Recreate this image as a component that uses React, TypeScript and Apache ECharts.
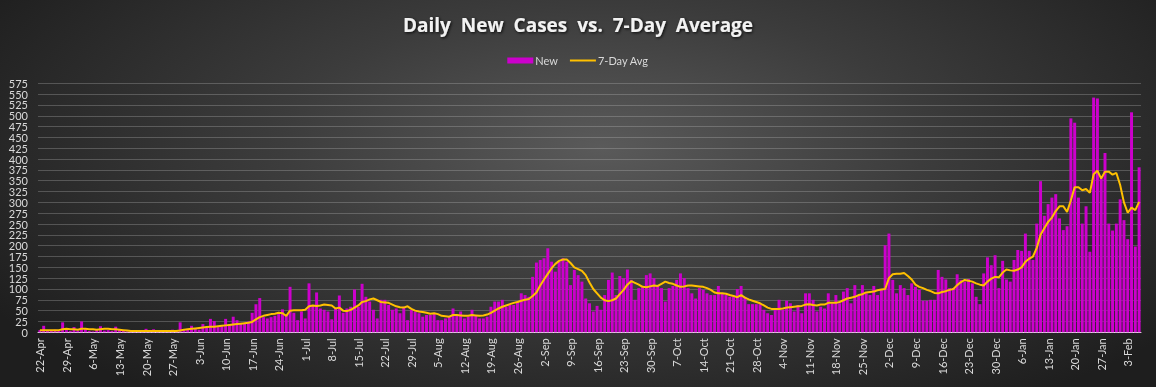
import React, { useEffect, useRef } from "react";
import * as echarts from "echarts";

const MONTHS = ["Jan", "Feb", "Mar", "Apr", "May", "Jun", "Jul", "Aug", "Sep", "Oct", "Nov", "Dec"];
const START_DATE = Date.UTC(2020, 3, 22);

const NEW_CASES = [
  5, 15, 5, 4, 6, 3, 23, 5, 3, 12,
  4, 25, 8, 3, 2, 5, 14, 4, 5, 3,
  13, 6, 3, 2, 1, 2, 3, 1, 8, 2,
  7, 3, 4, 2, 5, 6, 3, 23, 5, 8,
  15, 8, 6, 19, 10, 31, 26, 12, 14, 31,
  18, 36, 28, 22, 20, 25, 45, 65, 79, 35,
  32, 35, 38, 42, 53, 40, 105, 45, 28, 48,
  32, 113, 63, 92, 55, 52, 48, 30, 55, 85,
  45, 55, 59, 99, 59, 112, 82, 71, 52, 32,
  75, 75, 63, 52, 55, 44, 59, 28, 52, 48,
  44, 36, 40, 40, 44, 28, 28, 32, 36, 55,
  40, 48, 32, 36, 52, 38, 32, 32, 36, 59,
  71, 71, 75, 59, 63, 63, 71, 90, 86, 82,
  128, 161, 167, 171, 194, 163, 140, 163, 171, 163,
  109, 144, 132, 117, 78, 67, 48, 61, 52, 86,
  121, 138, 86, 130, 125, 145, 121, 75, 102, 104,
  132, 136, 125, 107, 102, 71, 102, 107, 121, 136,
  125, 102, 90, 78, 102, 98, 90, 86, 86, 107,
  90, 86, 82, 82, 100, 107, 82, 65, 65, 65,
  65, 52, 44, 40, 53, 75, 52, 73, 67, 48,
  63, 44, 90, 90, 75, 48, 59, 55, 90, 67,
  86, 67, 94, 102, 67, 109, 86, 109, 90, 86,
  107, 86, 98, 201, 228, 121, 90, 109, 102, 86,
  113, 105, 98, 73, 73, 75, 75, 144, 128, 122,
  102, 102, 134, 121, 117, 123, 113, 82, 65, 136,
  173, 155, 178, 102, 165, 122, 117, 167, 190, 188,
  228, 188, 167, 251, 349, 269, 296, 311, 319, 263,
  236, 245, 494, 484, 311, 251, 291, 186, 542, 540,
  355, 414, 251, 235, 251, 307, 259, 215, 508, 198,
  381,
];

const AVG_7DAY = [
  5, 5, 5, 5, 5, 5, 7, 8, 7, 7,
  6, 8, 8, 7, 7, 6, 7, 8, 8, 7,
  7, 6, 5, 4, 3, 3, 3, 3, 3, 3,
  3, 3, 3, 3, 3, 3, 3, 4, 6, 7,
  8, 9, 10, 11, 12, 13, 13, 14, 15, 16,
  17, 18, 19, 20, 21, 22, 24, 30, 35, 38,
  40, 42, 43, 45, 44, 38, 50, 51, 51, 51,
  52, 60, 62, 61, 62, 64, 63, 62, 55, 57,
  50, 49, 52, 57, 62, 70, 72, 76, 78, 74,
  70, 69, 68, 64, 60, 58, 57, 60, 54, 50,
  48, 47, 45, 43, 44, 42, 38, 37, 36, 40,
  40, 39, 38, 38, 40, 39, 38, 39, 41, 45,
  50, 55, 59, 62, 65, 68, 70, 73, 75, 77,
  84, 92, 108, 122, 135, 148, 158, 165, 168, 168,
  160, 150, 146, 142, 132, 115, 100, 90, 80, 74,
  72, 74, 78, 88, 98, 110, 118, 114, 110, 105,
  104, 106, 108, 107, 112, 117, 114, 112, 108, 105,
  106, 108, 108, 107, 106, 105, 102, 98, 92, 90,
  90, 89, 86, 84, 81, 86, 80, 76, 73, 70,
  67, 62, 57, 54, 54, 54, 55, 57, 58, 59,
  60, 61, 64, 65, 63, 62, 64, 64, 68, 68,
  68, 70, 74, 78, 80, 82, 86, 88, 92, 93,
  94, 97, 99, 100, 125, 134, 135, 135, 137, 130,
  122, 110, 105, 102, 98, 95, 91, 90, 93, 95,
  98, 100, 109, 116, 121, 119, 117, 113, 110, 108,
  117, 124, 128, 127, 138, 145, 143, 142, 145, 150,
  163, 170, 175, 195, 225, 240, 255, 265, 280, 291,
  291, 278, 305, 335, 335, 328, 331, 322, 365, 373,
  355, 371, 371, 364, 368, 340, 300, 276, 288, 282,
  301,
];

const CATEGORIES = NEW_CASES.map((_, i) => {
  const d = new Date(START_DATE + i * 86400000);
  return `${d.getUTCDate()}-${MONTHS[d.getUTCMonth()]}`;
});

const TITLE = "Daily  New  Cases  vs.  7-Day  Average";
const SERIES_NAMES = ["New", "7-Day Avg"];

const FONT = "Lato, 'Open Sans', sans-serif";
const LABEL_COLOR = "#d9d9d9";

export default function App() {
  const ref = useRef<HTMLDivElement>(null);

  useEffect(() => {
    document.body.style.margin = "0";
    if (!ref.current) return;
    const chart = echarts.init(ref.current, null, { renderer: "svg" });
    chart.setOption({
      animation: false,
      backgroundColor: "transparent",
      textStyle: { fontFamily: FONT },
      title: {
        text: TITLE,
        left: "center",
        top: 10,
        textStyle: {
          color: "#f2f2f2",
          fontSize: 19,
          fontWeight: "bold",
          fontFamily: "'Open Sans', sans-serif",
          textShadowColor: "rgba(0,0,0,0.85)",
          textShadowBlur: 3,
          textShadowOffsetX: 1,
          textShadowOffsetY: 1,
        },
      },
      legend: {
        top: 50,
        left: "center",
        itemGap: 12,
        itemWidth: 26,
        itemHeight: 6,
        symbolKeepAspect: true,
        textStyle: { color: LABEL_COLOR, fontSize: 11, fontFamily: FONT, padding: [0, 0, 0, -3] },
        data: [
          { name: SERIES_NAMES[0], icon: "rect", itemStyle: { color: "#cc00cc" } },
          {
            name: SERIES_NAMES[1],
            icon: "path://M0,0H26V2H0Z",
            itemStyle: { color: "#ffc000", borderWidth: 0 },
          },
        ],
      },
      grid: { left: 38, right: 15, top: 83.3, bottom: 54.7 },
      xAxis: {
        type: "category",
        data: CATEGORIES,
        boundaryGap: true,
        axisLine: { lineStyle: { color: "#e6e6e6", width: 1 } },
        axisTick: { show: false },
        axisLabel: {
          interval: 6,
          rotate: 90,
          color: LABEL_COLOR,
          fontSize: 11,
          fontFamily: FONT,
          margin: 6,
        },
        splitLine: { show: false },
      },
      yAxis: {
        type: "value",
        min: 0,
        max: 575,
        interval: 25,
        axisLine: { show: false },
        axisTick: { show: false },
        axisLabel: { color: LABEL_COLOR, fontSize: 11, fontFamily: FONT, margin: 10 },
        splitLine: { lineStyle: { color: "rgba(200,200,200,0.28)", width: 1 } },
      },
      series: [
        {
          name: SERIES_NAMES[0],
          type: "bar",
          data: NEW_CASES,
          barCategoryGap: "22%",
          itemStyle: { color: "#cc00cc" },
        },
        {
          name: SERIES_NAMES[1],
          type: "line",
          data: AVG_7DAY,
          symbol: "none",
          showSymbol: false,
          lineStyle: { color: "#ffc000", width: 2 },
          itemStyle: { color: "#ffc000" },
          z: 5,
        },
      ],
    });
    return () => chart.dispose();
  }, []);

  return (
    <div
      ref={ref}
      style={{
        position: "fixed",
        left: 0,
        top: 0,
        width: 1156,
        height: 387,
        background:
          "radial-gradient(ellipse 62% 80% at 52% 38%, #5a5a5a 0%, #3c3c3c 45%, #1e1e1e 100%)",
      }}
    />
  );
}
